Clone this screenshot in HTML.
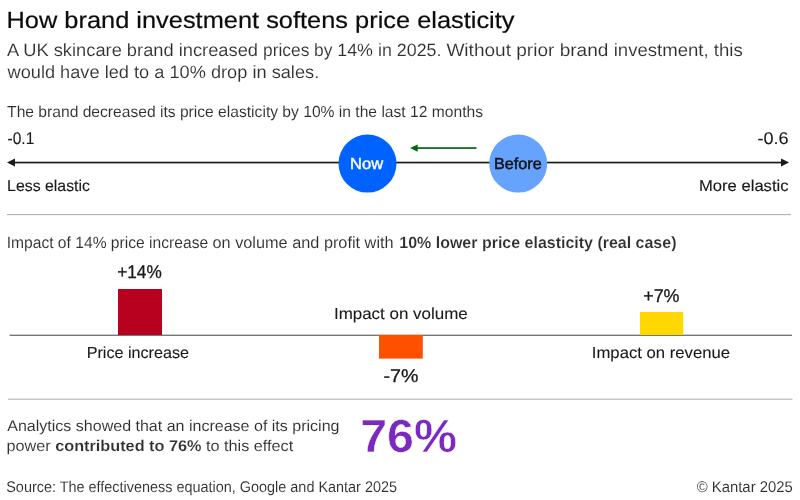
<!DOCTYPE html>
<html lang="en"><head><meta charset="utf-8"><title>How brand investment softens price elasticity</title>
<style>
html,body{margin:0;padding:0;background:#fff;}
body{width:800px;height:500px;overflow:hidden;font-family:"Liberation Sans", sans-serif;}
svg{display:block;font-family:"Liberation Sans", sans-serif;}
text{white-space:pre;text-rendering:geometricPrecision;}
</style></head><body>
<svg width="800" height="500" viewBox="0 0 800 500">
<rect width="800" height="500" fill="#ffffff"/>

<!-- rules -->
<rect x="7" y="214" width="784" height="1.15" fill="#b6b6b6"/>
<rect x="8" y="398.6" width="784.5" height="1.15" fill="#b6b6b6"/>
<!-- elasticity axis -->
<rect x="12" y="161.7" width="772" height="1.7" fill="#1a1a1a"/>
<polygon points="7,162.5 15,158.6 15,166.4" fill="#1a1a1a"/>
<polygon points="789,162.5 781,158.6 781,166.4" fill="#1a1a1a"/>
<circle cx="367.5" cy="163.6" r="29" fill="#0062ff"/>
<circle cx="518.2" cy="163.6" r="29" fill="#66a3ff"/>
<!-- green arrow -->
<rect x="414" y="147.2" width="62.5" height="1.7" fill="#04640f"/>
<polygon points="410,148.05 417.7,144.45 417.7,151.65" fill="#04640f"/>
<!-- bars -->
<rect x="9.5" y="334.7" width="782.5" height="1.1" fill="#555555"/>
<rect x="118" y="289" width="44" height="46" fill="#b8001f"/>
<rect x="379" y="335" width="43.8" height="23.6" fill="#ff5000"/>
<rect x="640" y="312" width="43.2" height="23" fill="#ffd800"/>

<text x="6.5" y="28.1" font-size="23.4" font-weight="400" fill="#0c0c0c" stroke="#0c0c0c" stroke-width="0.2" textLength="508.00" lengthAdjust="spacingAndGlyphs">How brand investment softens price elasticity</text>
<text x="7.5" y="77.5" font-size="17.8" font-weight="400" fill="#2e2e2e" stroke="#ffffff" stroke-width="0.12" textLength="311.70" lengthAdjust="spacingAndGlyphs">would have led to a 10% drop in sales.</text>
<text x="7.1" y="117" font-size="16.0" font-weight="400" fill="#2e2e2e" stroke="#ffffff" stroke-width="0.08" textLength="475.90" lengthAdjust="spacingAndGlyphs">The brand decreased its price elasticity by 10% in the last 12 months</text>
<text x="7.55" y="143.7" font-size="17.0" font-weight="400" fill="#1a1a1a" stroke="#1a1a1a" stroke-width="0.1" textLength="26.70" lengthAdjust="spacingAndGlyphs">-0.1</text>
<text x="757.4" y="143.7" font-size="17.0" font-weight="400" fill="#1a1a1a" stroke="#1a1a1a" stroke-width="0.1" textLength="31.15" lengthAdjust="spacingAndGlyphs">-0.6</text>
<text x="7.1" y="191" font-size="15.8" font-weight="400" fill="#1a1a1a" stroke="#1a1a1a" stroke-width="0.15" textLength="82.90" lengthAdjust="spacingAndGlyphs">Less elastic</text>
<text x="699.05" y="191" font-size="15.8" font-weight="400" fill="#1a1a1a" stroke="#1a1a1a" stroke-width="0.15" textLength="89.45" lengthAdjust="spacingAndGlyphs">More elastic</text>
<text x="350.05" y="169" font-size="16.0" font-weight="400" fill="#ffffff" stroke="#ffffff" stroke-width="0.4" textLength="33.05" lengthAdjust="spacingAndGlyphs">Now</text>
<text x="494.05" y="169" font-size="16.0" font-weight="400" fill="#111111" stroke="#111111" stroke-width="0.45" textLength="47.70" lengthAdjust="spacingAndGlyphs">Before</text>
<text x="117.25" y="278.4" font-size="18.4" font-weight="400" fill="#1a1a1a" stroke="#1a1a1a" stroke-width="0.3" textLength="44.50" lengthAdjust="spacingAndGlyphs">+14%</text>
<text x="86.7" y="358" font-size="16.0" font-weight="400" fill="#1a1a1a" stroke="#1a1a1a" stroke-width="0.1" textLength="102.30" lengthAdjust="spacingAndGlyphs">Price increase</text>
<text x="333.95" y="319.4" font-size="16.0" font-weight="400" fill="#1a1a1a" stroke="#1a1a1a" stroke-width="0.1" textLength="133.80" lengthAdjust="spacingAndGlyphs">Impact on volume</text>
<text x="383.55" y="382.2" font-size="18.4" font-weight="400" fill="#1a1a1a" stroke="#1a1a1a" stroke-width="0.3" textLength="34.90" lengthAdjust="spacingAndGlyphs">-7%</text>
<text x="643.25" y="301.6" font-size="18.4" font-weight="400" fill="#1a1a1a" stroke="#1a1a1a" stroke-width="0.3" textLength="36.25" lengthAdjust="spacingAndGlyphs">+7%</text>
<text x="591.85" y="358" font-size="16.0" font-weight="400" fill="#1a1a1a" stroke="#1a1a1a" stroke-width="0.1" textLength="138.15" lengthAdjust="spacingAndGlyphs">Impact on revenue</text>
<text x="7.25" y="431.3" font-size="15.5" font-weight="400" fill="#2e2e2e" stroke="#ffffff" stroke-width="0.08" textLength="332.25" lengthAdjust="spacingAndGlyphs">Analytics showed that an increase of its pricing</text>
<text x="6.5" y="451.25" font-size="15.5" font-weight="400" fill="#2e2e2e" stroke="#ffffff" stroke-width="0.08" textLength="286.75" lengthAdjust="spacingAndGlyphs">power <tspan font-weight="700" stroke-width="0.15">contributed to 76%</tspan> to this effect</text>
<text x="360.15" y="452.3" font-size="46.7" font-weight="700" fill="#7b2abf" stroke="#ffffff" stroke-width="0.5" textLength="96.85" lengthAdjust="spacingAndGlyphs">76%</text>
<text x="6.25" y="492.3" font-size="15.4" font-weight="400" fill="#2e2e2e" stroke="#ffffff" stroke-width="0.08" textLength="390.75" lengthAdjust="spacingAndGlyphs">Source: The effectiveness equation, Google and Kantar 2025</text>
<text x="696.75" y="492.3" font-size="15.4" font-weight="400" fill="#2e2e2e" stroke="#ffffff" stroke-width="0.08" textLength="96.00" lengthAdjust="spacingAndGlyphs">© Kantar 2025</text>
<text class="c" x="7.0" y="55.8" font-size="17.8" font-weight="400" fill="#2e2e2e" stroke="#ffffff" stroke-width="0.12" textLength="256.05" lengthAdjust="spacingAndGlyphs">A UK skincare brand increased </text>
<text class="c" x="263.05" y="55.8" font-size="17.8" font-weight="400" fill="#2e2e2e" stroke="#ffffff" stroke-width="0.12" textLength="74.20" lengthAdjust="spacingAndGlyphs">prices by </text>
<text class="c" x="337.25" y="55.8" font-size="17.8" font-weight="400" fill="#2e2e2e" stroke="#ffffff" stroke-width="0.12" textLength="109.15" lengthAdjust="spacingAndGlyphs">14% in 2025. </text>
<text class="c" x="446.4" y="55.8" font-size="17.8" font-weight="400" fill="#2e2e2e" stroke="#ffffff" stroke-width="0.12" textLength="167.30" lengthAdjust="spacingAndGlyphs">Without prior brand </text>
<text class="c" x="613.7" y="55.8" font-size="17.8" font-weight="400" fill="#2e2e2e" stroke="#ffffff" stroke-width="0.12" textLength="129.05" lengthAdjust="spacingAndGlyphs">investment, this</text>
<text class="c" x="6.65" y="248" font-size="16.2" font-weight="400" fill="#2e2e2e" stroke="#ffffff" stroke-width="0.08" textLength="205.85" lengthAdjust="spacingAndGlyphs">Impact of 14% price increase </text>
<text class="c" x="212.5" y="248" font-size="16.2" font-weight="400" fill="#2e2e2e" stroke="#ffffff" stroke-width="0.08" textLength="181.10" lengthAdjust="spacingAndGlyphs">on volume and profit with</text>
<text class="c" x="399.31" y="248" font-size="16.2" font-weight="700" fill="#2e2e2e" stroke="#ffffff" stroke-width="0.15" textLength="277.19" lengthAdjust="spacingAndGlyphs">10% lower price elasticity (real case)</text>
</svg>
</body></html>
